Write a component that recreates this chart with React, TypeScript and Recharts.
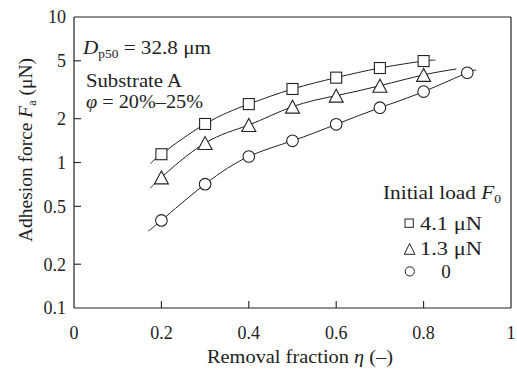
import React from 'react';
import { ComposedChart, Line, Scatter, XAxis, YAxis, ReferenceLine } from 'recharts';

// ---- data ----
const ETA_LOADED = [0.2, 0.3, 0.4, 0.5, 0.6, 0.7, 0.8];
const FA_41 = [1.14, 1.84, 2.52, 3.2, 3.83, 4.46, 4.98];
const FA_13 = [0.79, 1.36, 1.81, 2.42, 2.88, 3.37, 4.0];
const ETA_ZERO = [0.2, 0.3, 0.4, 0.5, 0.6, 0.7, 0.8, 0.9];
const FA_0 = [0.4, 0.71, 1.1, 1.41, 1.83, 2.38, 3.07, 4.14];

// fitted-curve end points
const FIT_41_START = { x: 0.175, y: 0.98 };
const FIT_41_END = { x: 0.827, y: 5.04 };
const FIT_13_START = { x: 0.175, y: 0.665 };
const FIT_13_END = { x: 0.875, y: 4.39 };
const FIT_0_START = { x: 0.17, y: 0.338 };
const FIT_0_END = { x: 0.919, y: 4.26 };

const X_TICKS = [0, 0.2, 0.4, 0.6, 0.8, 1];
const Y_TICKS = [0.1, 0.2, 0.5, 1, 2, 5, 10];
const LEGEND_LABELS = ['4.1 μN', '1.3 μN', '0'];

const toPts = (xs: number[], ys: number[]) => xs.map((x, i) => ({ x, y: ys[i] }));
const pts41 = toPts(ETA_LOADED, FA_41);
const pts13 = toPts(ETA_LOADED, FA_13);
const pts0 = toPts(ETA_ZERO, FA_0);
const fit41 = [FIT_41_START, ...pts41, FIT_41_END];
const fit13 = [FIT_13_START, ...pts13, FIT_13_END];
const fit0 = [FIT_0_START, ...pts0, FIT_0_END];

const INK = '#222';
const FONT = 'Liberation Serif';
const TXT: React.CSSProperties = { fontFamily: FONT };

const Square = (p: any) => {
  const s = 5.5;
  return <rect x={p.cx - s} y={p.cy - s} width={2 * s} height={2 * s} fill="#fff" stroke={INK} strokeWidth={1.1} />;
};
const Triangle = (p: any) => {
  const w = 7, h = 6.5;
  return (
    <polygon
      points={`${p.cx},${p.cy - h} ${p.cx - w},${p.cy + h} ${p.cx + w},${p.cy + h}`}
      fill="#fff"
      stroke={INK}
      strokeWidth={1.1}
    />
  );
};
const Circle = (p: any) => <circle cx={p.cx} cy={p.cy} r={5.8} fill="#fff" stroke={INK} strokeWidth={1.1} />;

const YTick = (props: any) => {
  const { x, y, payload } = props;
  const v = payload.value;
  const edge = x + 8;
  return (
    <g>
      {v !== 0.1 && v !== 10 && <line x1={edge} x2={edge + 7} y1={y} y2={y} stroke={INK} strokeWidth={1.1} />}
      <text x={x} y={y} dy="0.36em" textAnchor="end" style={TXT} fontSize={18} fill={INK}>
        {String(v)}
      </text>
    </g>
  );
};

const XTick = (props: any) => {
  const { x, y, payload } = props;
  const v = payload.value;
  const edge = y - 18;
  return (
    <g>
      {v !== 0 && v !== 1 && <line x1={x} x2={x} y1={edge} y2={edge - 7} stroke={INK} strokeWidth={1.1} />}
      <text x={x} y={y} dy="0.71em" textAnchor="middle" style={TXT} fontSize={18} fill={INK}>
        {String(v)}
      </text>
    </g>
  );
};

export default function App() {
  return (
    <div style={{ position: 'absolute', left: 0, top: 0, width: 517, height: 373, background: '#fff', fontFamily: FONT }}>
      <ComposedChart width={517} height={373} margin={{ top: 17, right: 6, bottom: 0, left: 14 }}>
        <XAxis
          type="number"
          dataKey="x"
          domain={[0, 1]}
          ticks={X_TICKS}
          allowDataOverflow
          height={65}
          tickSize={0}
          tickMargin={18}
          tickLine={false}
          tick={<XTick />}
          axisLine={{ stroke: INK, strokeWidth: 1.2 }}
        />
        <YAxis
          type="number"
          dataKey="y"
          scale="log"
          domain={[0.1, 10]}
          ticks={Y_TICKS}
          allowDataOverflow
          width={60}
          tickSize={0}
          tickMargin={8}
          tickLine={false}
          tick={<YTick />}
          axisLine={{ stroke: INK, strokeWidth: 1.2 }}
        />
        <ReferenceLine y={10} stroke={INK} strokeWidth={1.2} />
        <ReferenceLine x={1} stroke={INK} strokeWidth={1.2} />
        <Line data={fit41} dataKey="y" type="natural" stroke={INK} strokeWidth={1} dot={false} isAnimationActive={false} />
        <Line data={fit13} dataKey="y" type="natural" stroke={INK} strokeWidth={1} dot={false} isAnimationActive={false} />
        <Line data={fit0} dataKey="y" type="natural" stroke={INK} strokeWidth={1} dot={false} isAnimationActive={false} />
        <Scatter data={pts41} dataKey="y" shape={Square} isAnimationActive={false} />
        <Scatter data={pts13} dataKey="y" shape={Triangle} isAnimationActive={false} />
        <Scatter data={pts0} dataKey="y" shape={Circle} isAnimationActive={false} />
      </ComposedChart>
      <svg
        width={517}
        height={373}
        style={{ position: 'absolute', left: 0, top: 0, pointerEvents: 'none', fontFamily: FONT }}
        fill={INK}
      >
        {/* axis titles */}
        <text
          x={0}
          y={0}
          transform="translate(32,150) rotate(-90)"
          textAnchor="middle"
          fontSize={19}
          textLength={184}
          lengthAdjust="spacingAndGlyphs"
          style={TXT}
        >
          Adhesion force <tspan fontStyle="italic">F</tspan>
          <tspan fontSize={12} dy={4}>a</tspan>
          <tspan dy={-4}>{'  (μN)'}</tspan>
        </text>
        <text x={300} y={363} textAnchor="middle" fontSize={19} textLength={186} lengthAdjust="spacingAndGlyphs" style={TXT}>
          Removal fraction <tspan fontStyle="italic">η</tspan> (–)
        </text>

        {/* annotations */}
        <text x={83} y={54} fontSize={19} textLength={128} lengthAdjust="spacingAndGlyphs" style={TXT}>
          <tspan fontStyle="italic">D</tspan>
          <tspan fontSize={12} dy={4}>p50</tspan>
          <tspan dy={-4}> = 32.8 μm</tspan>
        </text>
        <text x={86} y={87} fontSize={19} textLength={96} lengthAdjust="spacingAndGlyphs" style={TXT}>
          Substrate A
        </text>
        <text x={86} y={108} fontSize={19} textLength={117} lengthAdjust="spacingAndGlyphs" style={TXT}>
          <tspan fontStyle="italic">φ</tspan> = 20%–25%
        </text>

        {/* legend */}
        <text x={383} y={199} fontSize={19} textLength={118} lengthAdjust="spacingAndGlyphs" style={TXT}>
          Initial load <tspan fontStyle="italic">F</tspan>
          <tspan fontSize={12} dy={4}>0</tspan>
        </text>
        <rect x={405} y={219} width={8.3} height={8.3} fill="#fff" stroke={INK} strokeWidth={1} />
        <polygon points="409.6,243.5 404.3,254.3 415,254.3" fill="#fff" stroke={INK} strokeWidth={1} />
        <circle cx={409.8} cy={271.4} r={4.6} fill="#fff" stroke={INK} strokeWidth={1} />
        <text x={420} y={230} fontSize={19} textLength={62} lengthAdjust="spacingAndGlyphs" style={TXT}>
          {LEGEND_LABELS[0]}
        </text>
        <text x={420} y={255} fontSize={19} textLength={62} lengthAdjust="spacingAndGlyphs" style={TXT}>
          {LEGEND_LABELS[1]}
        </text>
        <text x={446} y={277.5} fontSize={19} textAnchor="middle" style={TXT}>
          {LEGEND_LABELS[2]}
        </text>
      </svg>
    </div>
  );
}
